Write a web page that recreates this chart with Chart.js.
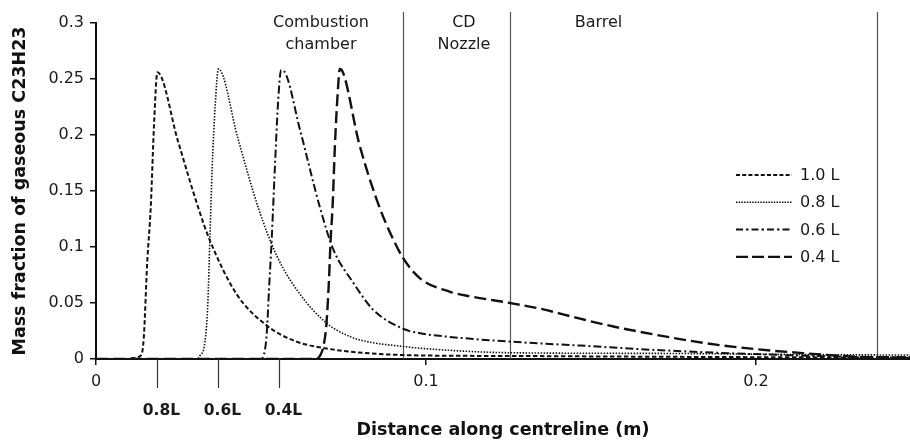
<!DOCTYPE html>
<html>
<head>
<meta charset="utf-8">
<script src="https://cdn.jsdelivr.net/npm/chart.js@4.4.1/dist/chart.umd.min.js"></script>
<style>
  html, body { margin: 0; padding: 0; background: #fff; }
</style>
</head>
<body>
<canvas id="fractionChart" width="910" height="441"></canvas>
<script>
// distance along centreline (m) / mass fraction of gaseous C23H23
const dist10 = [0, 0.0094, 0.0124, 0.0138, 0.0145, 0.0155, 0.0166, 0.0176, 0.0186, 0.0248, 0.0310, 0.0345, 0.0426, 0.0517, 0.0603, 0.0694, 0.0830, 0.0982, 0.1255, 0.1697, 0.2133, 0.2467];
const frac10 = [0, 0, 0.0015, 0.004, 0.02, 0.085, 0.136, 0.21, 0.256, 0.195, 0.135, 0.106, 0.058, 0.030, 0.016, 0.0096, 0.005, 0.0032, 0.0027, 0.002, 0.0015, 0.0012];

const dist08 = [0, 0.0305, 0.0315, 0.0330, 0.0339, 0.0345, 0.0352, 0.0361, 0.0371, 0.0430, 0.0492, 0.0548, 0.0618, 0.0699, 0.0770, 0.0830, 0.0921, 0.0982, 0.1255, 0.1697, 0.2133, 0.2467];
const frac08 = [0, 0, 0.003, 0.015, 0.05, 0.106, 0.17, 0.225, 0.259, 0.197, 0.135, 0.092, 0.058, 0.032, 0.020, 0.015, 0.0115, 0.0096, 0.0056, 0.005, 0.004, 0.0035];

const dist06 = [0, 0.0500, 0.0512, 0.0518, 0.0524, 0.0533, 0.0542, 0.0552, 0.0561, 0.0570, 0.0618, 0.0679, 0.0719, 0.0780, 0.0840, 0.0931, 0.0982, 0.1063, 0.1255, 0.1467, 0.1699, 0.1982, 0.2285, 0.2467];
const frac06 = [0, 0, 0.008, 0.025, 0.06, 0.11, 0.17, 0.23, 0.258, 0.257, 0.205, 0.135, 0.098, 0.068, 0.044, 0.027, 0.023, 0.020, 0.0155, 0.012, 0.008, 0.0045, 0.002, 0.0015];

const dist04 = [0, 0.0667, 0.0679, 0.0689, 0.0698, 0.0706, 0.0711, 0.0717, 0.0724, 0.0732, 0.0739, 0.0745, 0.0797, 0.0851, 0.0891, 0.0931, 0.0982, 0.1073, 0.1133, 0.1255, 0.1345, 0.1467, 0.1568, 0.1699, 0.1850, 0.2002, 0.2154, 0.2305, 0.2467];
const frac04 = [0, 0, 0.003, 0.011, 0.03, 0.07, 0.106, 0.136, 0.19, 0.235, 0.259, 0.258, 0.193, 0.142, 0.113, 0.090, 0.072, 0.060, 0.056, 0.050, 0.045, 0.036, 0.029, 0.0215, 0.014, 0.0087, 0.005, 0.002, 0.0013];

const seriesNames = ['1.0 L', '0.8 L', '0.6 L', '0.4 L'];
const xTicks = [0, 0.1, 0.2];
const yTicks = [0, 0.05, 0.1, 0.15, 0.2, 0.25, 0.3];

// section boundaries along the centreline and their names
const sectionBounds = [0.093, 0.1255, 0.2367];
const sectionNames = [['Combustion', 'chamber'], ['CD', 'Nozzle'], ['Barrel']];
// igniter positions marked below the axis
const markerPos = [0.0184, 0.037, 0.0555];
const markerNames = ['0.8L', '0.6L', '0.4L'];

const FONT = '"DejaVu Sans", sans-serif';
const INK = '#1a1a1a';

function pairs(xs, ys) { return xs.map((x, i) => ({ x, y: ys[i] })); }

const styles = [
  { dash: [4.5, 2.5], width: 2, legendDash: [4, 2.2] },
  { dash: [1.5, 1.5], width: 1.6, legendDash: [1.5, 1.2] },
  { dash: [8, 3, 2, 3], width: 2, legendDash: [7, 3, 2.5, 3] },
  { dash: [12, 5], width: 2.4, legendDash: [12, 4] }
];

const datasets = [[dist10, frac10], [dist08, frac08], [dist06, frac06], [dist04, frac04]].map((d, i) => ({
  label: seriesNames[i],
  data: pairs(d[0], d[1]),
  borderColor: '#111',
  borderWidth: styles[i].width,
  borderDash: styles[i].dash,
  pointRadius: 0,
  cubicInterpolationMode: 'monotone',
  fill: false
}));

const overlay = {
  id: 'overlay',
  beforeDatasetsDraw(chart) {
    const { ctx, chartArea, scales: { x } } = chart;
    ctx.save();
    ctx.strokeStyle = '#555';
    ctx.lineWidth = 1.2;
    sectionBounds.forEach(v => {
      const px = Math.round(x.getPixelForValue(v)) + 0.5;
      ctx.beginPath();
      ctx.moveTo(px, 12);
      ctx.lineTo(px, chartArea.bottom);
      ctx.stroke();
    });
    ctx.restore();
  },
  afterDatasetsDraw(chart, args, opts) {
    const { ctx, chartArea, scales: { x } } = chart;
    ctx.save();
    ctx.fillStyle = INK;
    ctx.textAlign = 'center';
    ctx.textBaseline = 'alphabetic';
    ctx.font = '16px ' + FONT;
    sectionNames.forEach((lines, i) => {
      const px = x.getPixelForValue(opts.labelAt[i]);
      lines.forEach((t, j) => ctx.fillText(t, px, 26.5 + j * 22));
    });

    // marker ticks + bold labels under the axis
    ctx.strokeStyle = '#333';
    ctx.lineWidth = 1.2;
    ctx.font = 'bold 15.5px ' + FONT;
    markerPos.forEach((v, i) => {
      const px = Math.round(x.getPixelForValue(v)) + 0.5;
      ctx.beginPath();
      ctx.moveTo(px, chartArea.bottom);
      ctx.lineTo(px, 388);
      ctx.stroke();
      ctx.fillText(markerNames[i], px + 4, 415);
    });

    // legend inside the plot
    ctx.font = '16px ' + FONT;
    ctx.textAlign = 'left';
    ctx.textBaseline = 'middle';
    chart.data.datasets.forEach((ds, i) => {
      const y = opts.legendTop + i * 27.3;
      ctx.strokeStyle = '#111';
      ctx.lineWidth = styles[i].width;
      ctx.setLineDash(styles[i].legendDash);
      ctx.beginPath();
      ctx.moveTo(opts.legendLeft, y);
      ctx.lineTo(opts.legendLeft + 56, y);
      ctx.stroke();
      ctx.setLineDash([]);
      ctx.fillText(ds.label, opts.legendLeft + 64, y + 1);
    });
    ctx.restore();
  }
};

new Chart(document.getElementById('fractionChart'), {
  type: 'line',
  data: { datasets },
  plugins: [overlay],
  options: {
    responsive: false,
    animation: false,
    layout: { padding: { top: 23, right: 0, left: 0, bottom: 0 } },
    plugins: {
      legend: { display: false },
      tooltip: { enabled: false },
      overlay: { labelAt: [0.0682, 0.1115, 0.1523], legendLeft: 736, legendTop: 175 }
    },
    scales: {
      x: {
        type: 'linear',
        min: 0,
        max: 0.2467,
        afterBuildTicks: s => { s.ticks = xTicks.map(v => ({ value: v })); },
        afterFit: s => { s.height = 82; },
        border: { color: '#111', width: 2 },
        grid: { display: true, drawOnChartArea: false, drawTicks: true, tickLength: 6, color: '#111', lineWidth: 1.5 },
        ticks: { color: INK, font: { family: FONT, size: 16 }, padding: 7, maxRotation: 0, autoSkip: false, callback: v => String(v) },
        title: { display: true, text: 'Distance along centreline (m)', color: '#111', font: { family: FONT, size: 17.5, weight: 'bold' }, padding: { top: 0, bottom: 0 } }
      },
      y: {
        min: 0,
        max: 0.3,
        afterBuildTicks: s => { s.ticks = yTicks.map(v => ({ value: v })); },
        afterFit: s => { s.width = 96; },
        border: { color: '#111', width: 2 },
        grid: { display: true, drawOnChartArea: false, drawTicks: true, tickLength: 6, color: '#111', lineWidth: 1.5 },
        ticks: { color: INK, font: { family: FONT, size: 16 }, padding: 6, callback: v => String(v) },
        title: { display: true, text: 'Mass fraction of gaseous C23H23', color: '#111', font: { family: FONT, size: 17.5, weight: 'bold' }, padding: { top: 10, bottom: 0 } }
      }
    }
  }
});
</script>
</body>
</html>
